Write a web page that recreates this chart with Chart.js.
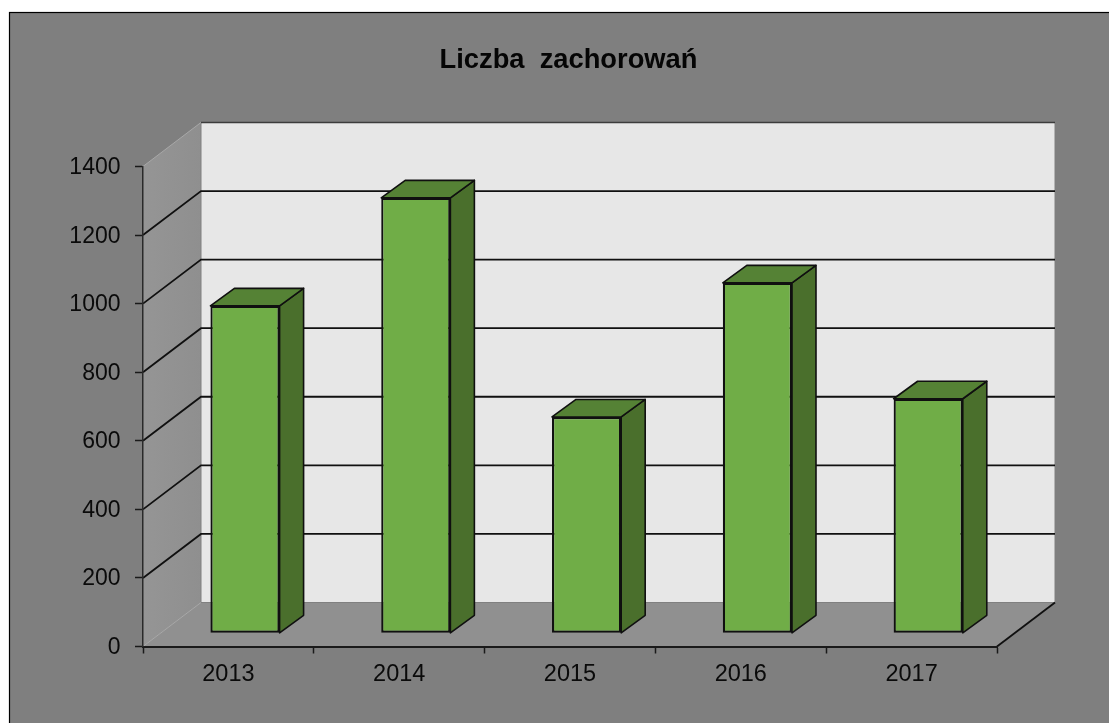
<!DOCTYPE html>
<html><head><meta charset="utf-8">
<style>html,body{margin:0;padding:0;background:#fff;overflow:hidden}canvas{display:block}</style>
<script src="https://cdn.jsdelivr.net/npm/chart.js@4"></script></head>
<body><div style="width:1109px;height:723px"><canvas id="c" width="1109" height="723"></canvas></div>
<script>
const categories = ['2013','2014','2015','2016','2017'];
const cases = [955, 1270, 631, 1022, 684];
const chartTitle = 'Liczba  zachorowań';
const yMax = 1400, yStep = 200;

const WALL = {dx:58, dy:-44};      // depth of the box
const BAR_OFF = {dx:16.6, dy:-13.2}; // bar position inside the box
const BAR_D = {dx:24, dy:-17.5};   // depth of a bar
const LINE = '#101010';

function poly(ctx, pts, fill, stroke, lw){
  ctx.beginPath();
  pts.forEach((p,i)=> i? ctx.lineTo(p[0],p[1]) : ctx.moveTo(p[0],p[1]));
  ctx.closePath();
  if(fill){ctx.fillStyle=fill;ctx.fill();}
  if(stroke){ctx.strokeStyle=stroke;ctx.lineWidth=lw;ctx.lineJoin='round';ctx.stroke();}
}
const box3d = {
  id:'box3d',
  afterLayout(chart){
    chart.titleBlock.left -= 1.5; chart.titleBlock.right -= 1.5;
  },
  beforeDraw(chart){
    const ctx=chart.ctx, a=chart.chartArea, y=chart.scales.y;
    const L=a.left,R=a.right,T=a.top,B=a.bottom,dx=WALL.dx,dy=WALL.dy;
    // value labels sit a little lower than the canvas "middle" baseline
    y.getLabelItems(a).forEach(it=>{ if(!it._moved){it.textOffset+=1.2;it._moved=true;} });
    ctx.save();
    ctx.fillStyle='#fff';ctx.fillRect(0,0,chart.width,chart.height);
    ctx.fillStyle='#7f7f7f';ctx.fillRect(9.5,12.5,chart.width,chart.height);
    ctx.strokeStyle='#000';ctx.lineWidth=1.2;ctx.strokeRect(9.5,12.5,chart.width,chart.height);
    // back wall
    poly(ctx,[[L+dx,T+dy],[R+dx,T+dy],[R+dx,B+dy],[L+dx,B+dy]],'#e7e7e7');
    // left wall
    const g=ctx.createLinearGradient(L,0,L+dx,0);g.addColorStop(0,'#959595');g.addColorStop(1,'#8f8f8f');
    poly(ctx,[[L,T],[L+dx,T+dy],[L+dx,B+dy],[L,B]],g);
    // floor
    poly(ctx,[[L,B],[R,B],[R+dx,B+dy],[L+dx,B+dy]],'#909090');
    // edges
    ctx.lineWidth=1;ctx.strokeStyle='#808080';
    ctx.beginPath();ctx.moveTo(L+dx,T+dy);ctx.lineTo(L+dx,B+dy);ctx.lineTo(R+dx,B+dy);ctx.lineTo(R+dx,T+dy);ctx.stroke();
    ctx.strokeStyle='#a8a8a8';
    ctx.beginPath();ctx.moveTo(L,B);ctx.lineTo(L+dx,B+dy);ctx.moveTo(L,T);ctx.lineTo(L+dx,T+dy);ctx.stroke();
    ctx.strokeStyle='#3c3c3c';ctx.lineWidth=1.5;
    ctx.beginPath();ctx.moveTo(L+dx,T+dy);ctx.lineTo(R+dx,T+dy);ctx.stroke();
    // grid lines follow the value scale
    ctx.strokeStyle=LINE;ctx.lineWidth=1.8;
    y.ticks.forEach(t=>{
      if(t.value===0||t.value===yMax)return;
      const p=y.getPixelForValue(t.value);
      ctx.beginPath();ctx.moveTo(L,p);ctx.lineTo(L+dx,p+dy);ctx.lineTo(R+dx,p+dy);ctx.stroke();
    });
    // right floor edge
    ctx.lineWidth=1.8;
    ctx.beginPath();ctx.moveTo(R,B);ctx.lineTo(R+dx,B+dy);ctx.stroke();
    ctx.restore();
  },
  beforeDatasetDraw(chart,args){
    const ctx=chart.ctx;
    ctx.save();
    ctx.translate(BAR_OFF.dx,BAR_OFF.dy);
    const d=BAR_D;
    args.meta.data.forEach(b=>{
      const l=b.x-b.width/2,r=b.x+b.width/2,t=b.y,base=b.base;
      poly(ctx,[[r,t],[r+d.dx,t+d.dy],[r+d.dx,base+d.dy],[r,base]],'#4a6f2c',LINE,1.6);
      poly(ctx,[[l,t],[l+d.dx,t+d.dy],[r+d.dx,t+d.dy],[r,t]],'#558235',LINE,1.6);
    });
  },
  afterDatasetDraw(chart){ chart.ctx.restore(); }
};

new Chart(document.getElementById('c'),{
  type:'bar',
  data:{labels:categories,datasets:[{
    data:cases,backgroundColor:'#70ad47',borderColor:LINE,borderWidth:2.2,
    borderSkipped:false,barPercentage:0.405,categoryPercentage:1,clip:false
  }]},
  plugins:[box3d],
  options:{
    responsive:false,animation:false,
    layout:{padding:{left:20,right:112,top:0,bottom:0}},
    plugins:{
      legend:{display:false},tooltip:{enabled:false},
      title:{display:true,text:chartTitle,fullSize:false,color:'#050505',
        font:{family:'"Liberation Sans",Arial,sans-serif',size:27.3,weight:'bold'},
        padding:{top:43.6,bottom:90.1}}
    },
    scales:{
      x:{
        afterFit(s){s.height=76.5;},
        grid:{display:true,drawOnChartArea:false,drawTicks:true,tickLength:7,tickColor:'#1a1a1a',tickWidth:1.5},
        border:{display:true,color:'#1a1a1a',width:2},
        ticks:{color:'#0a0a0a',padding:7,font:{family:'"Liberation Sans",Arial,sans-serif',size:23.5},maxRotation:0}
      },
      y:{
        min:0,max:yMax,
        afterFit(s){s.width=123;},
        grid:{display:true,drawOnChartArea:false,drawTicks:true,tickLength:8,tickColor:'#1a1a1a',tickWidth:1.5},
        border:{display:true,color:'#2a2a2a',width:1.5},
        ticks:{stepSize:yStep,color:'#0a0a0a',padding:14.5,callback:v=>String(v),font:{family:'"Liberation Sans",Arial,sans-serif',size:23}}
      }
    }
  }
});
</script></body></html>
